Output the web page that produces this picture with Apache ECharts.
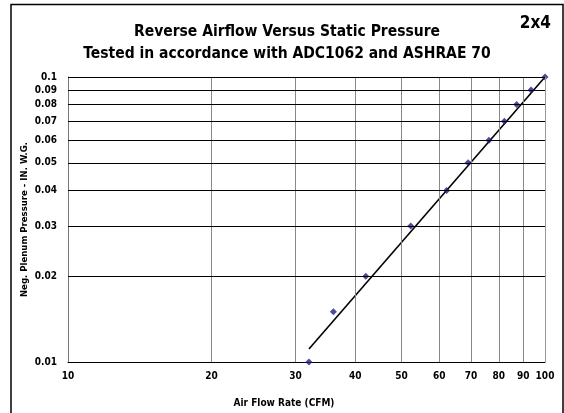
<!DOCTYPE html>
<html><head><meta charset="utf-8">
<script src="https://cdn.jsdelivr.net/npm/echarts@6/dist/echarts.min.js"></script>
<style>html,body{margin:0;padding:0;background:#fff}#c{width:564px;height:413px}</style>
</head><body><div id="c"></div>
<script>
// Data
const airflow = [32, 36, 42.1, 52.3, 62.2, 69, 76.3, 82.2, 87.2, 93.5, 100];
const pressure = [0.01, 0.015, 0.02, 0.03, 0.04, 0.05, 0.06, 0.07, 0.08, 0.09, 0.1];
const trendX = [32, 100];
const trendY = [0.0111, 0.1];
const xTicks = [20, 30, 40, 50, 60, 70, 80, 90];
const yTicks = [0.02, 0.03, 0.04, 0.05, 0.06, 0.07, 0.08, 0.09];
const titleText = 'Reverse Airflow Versus Static Pressure\nTested in accordance with ADC1062 and ASHRAE 70';
const cornerText = '2x4';
const xName = 'Air Flow Rate (CFM)';
const yName = 'Neg. Plenum Pressure - IN. W.G.';

const FONT = '"Liberation Sans Narrow", "DejaVu Sans Condensed", Arial, sans-serif';
const lbl = {fontFamily: FONT, fontWeight: 'bold', fontSize: 10, color: '#000'};

const chart = echarts.init(document.getElementById('c'), null, {renderer: 'canvas'});
chart.setOption({
  animation: false,
  backgroundColor: '#fff',
  title: [
    {text: titleText, left: 282, top: 16, textAlign: 'center',
     textStyle: {fontFamily: FONT, fontWeight: 'bold', fontSize: 15.5, lineHeight: 22, color: '#000'}},
    {text: cornerText, right: 8, top: 10,
     textStyle: {fontFamily: FONT, fontWeight: 'bold', fontSize: 17, color: '#000'}}
  ],
  graphic: [
    {type: 'rect', shape: {x: 11, y: 4.5, width: 552, height: 420}, style: {fill: 'none', stroke: '#000', lineWidth: 1.5}, silent: true},
    {type: 'text', x: 284, y: 403, style: Object.assign({text: xName, align: 'center', verticalAlign: 'middle'}, lbl)}
  ],
  grid: {left: 68, right: 19, top: 77, bottom: 51},
  xAxis: {
    type: 'log', logBase: 10, min: 10, max: 100,
    axisLine: {show: true, lineStyle: {color: '#000', width: 1}},
    axisTick: {show: false},
    splitLine: {show: false},
    axisLabel: Object.assign({margin: 9}, lbl)
  },
  yAxis: {
    type: 'log', logBase: 10, min: 0.01, max: 0.1,
    name: yName, nameLocation: 'middle', nameGap: 38, nameRotate: 90,
    nameMoveOverlap: false,
    nameTextStyle: Object.assign({}, lbl, {fontSize: 9.5}),
    axisLine: {show: true, lineStyle: {color: '#777', width: 1}},
    axisTick: {show: false},
    splitLine: {show: false},
    axisLabel: Object.assign({margin: 11}, lbl)
  },
  series: [
    {
      type: 'line', data: trendX.map((x, i) => [x, trendY[i]]),
      symbol: 'none', lineStyle: {color: '#000', width: 1.6}, silent: true, z: 3,
      markLine: {
        silent: true, symbol: 'none', animation: false,
        lineStyle: {type: 'solid', color: '#888', width: 1},
        label: Object.assign({position: 'start', distance: 9, formatter: '{b}'}, lbl),
        data: xTicks.map(v => ({xAxis: v, name: String(v)}))
          .concat([{xAxis: 100, name: '', lineStyle: {color: '#999'}}])
      }
    },
    {
      type: 'scatter', data: airflow.map((x, i) => [x, pressure[i]]),
      symbol: 'diamond', symbolSize: 7, itemStyle: {color: '#1f1f80'}, z: 4,
      markLine: {
        silent: true, symbol: 'none', animation: false,
        lineStyle: {type: 'solid', color: '#000', width: 1},
        label: Object.assign({position: 'start', distance: 11, formatter: '{b}'}, lbl),
        data: yTicks.map(v => ({yAxis: v, name: String(v)}))
          .concat([{yAxis: 0.1, name: ''}])
      }
    }
  ]
});
</script></body></html>
